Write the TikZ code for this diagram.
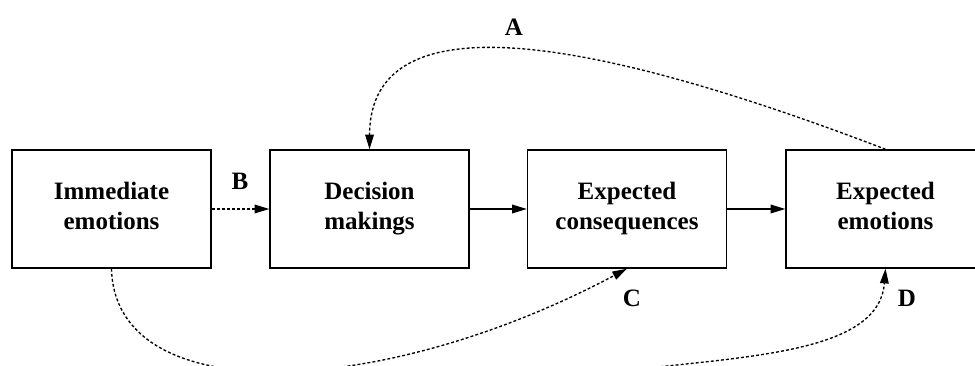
\documentclass[tikz,border=0pt]{standalone}
\usepackage{fontspec}
\setmainfont{Liberation Serif}
\usetikzlibrary{arrows.meta}

\begin{document}
\begin{tikzpicture}
  [x=0.75pt,y=-0.75pt,
   every node/.style={font=\bfseries\fontsize{18.75}{22.5}\selectfont},
   box/.style={draw,line width=1.1pt,minimum width=149.25pt,minimum height=88.5pt,align=center,inner sep=0pt,
     execute at begin node=\rule{0pt}{16.5pt},execute at end node=\rule[-5pt]{0pt}{5pt}},
   link/.style={line width=1pt,-{Triangle[length=11pt,width=6.5pt]}},
   hint/.style={link,dash pattern=on 2.2pt off 1.6pt}]
  \useasboundingbox (0,0) rectangle (975,366);
  \clip (0,0) rectangle (975,366);

  \node[box] (imm) at (111.5,209) {Immediate\\emotions};
  \node[box] (dec) at (369.5,209) {Decision\\makings};
  \node[box] (con) at (627,209) {Expected\\consequences};
  \node[box] (emo) at (885.5,209) {Expected\\emotions};

  \node (la) at (514,27) {A};
  \node (lb) at (240,181) {B};
  \node (lc) at (632,298) {C};
  \node (ld) at (907,298) {D};

  % D comes in from below the frame
  \coordinate (dsrc) at (560,380);

  \draw[link] (dec) -- (con);
  \draw[link] (con) -- (emo);

  \draw[hint] (imm) -- (dec);
  \draw[hint] (emo.north) .. controls (600,40) and (370,-5) .. (dec.north);
  \draw[hint] (imm.south) .. controls (115,410) and (380,400) .. (con.south);
  \draw[hint] (dsrc) .. controls (700,355) and (878,365) .. (emo.south);
\end{tikzpicture}
\end{document}
